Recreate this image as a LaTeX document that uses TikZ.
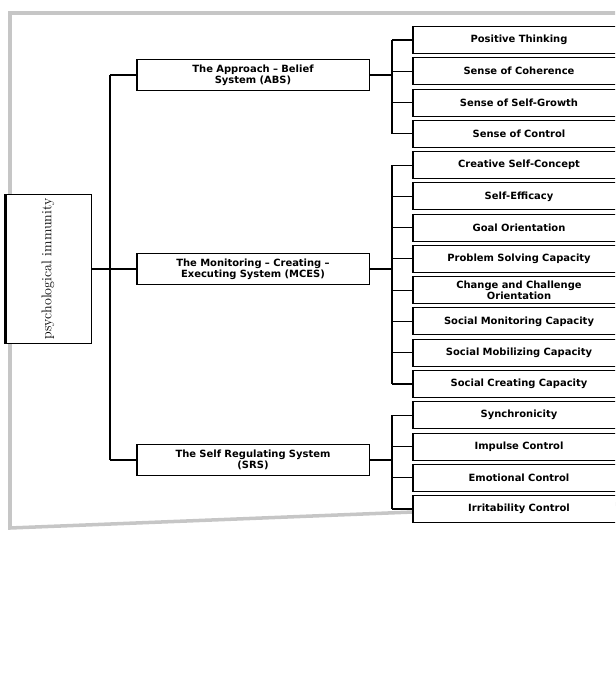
\documentclass[tikz,border=0pt]{standalone}
\usepackage{fontspec}
\setsansfont{DejaVu Sans}
\usetikzlibrary{positioning, calc}

\begin{document}
\begin{tikzpicture}[
    x=0.03cm, y=-0.03cm,
    node distance=0.1cm,
    leftbar/.style={path picture={\draw[line width=#1] (path picture bounding box.north west) -- (path picture bounding box.south west);}},
    rootbox/.style={rectangle, draw, fill=white, line width=0.8pt, minimum width=2.6cm, minimum height=4.26cm, font=\large, leftbar=4pt},
    system/.style={rectangle, draw, fill=white, line width=0.8pt, text width=6.8cm, align=center, minimum width=7cm, minimum height=0.95cm, inner sep=1pt, font=\sffamily\bfseries\fontsize{8.5}{9.5}\selectfont, leftbar=2.5pt},
    factor/.style={rectangle, draw, fill=white, line width=0.8pt, text width=6cm, align=center, minimum width=6.4cm, minimum height=0.81cm, inner sep=1pt, font=\sffamily\bfseries\fontsize{8.5}{9}\selectfont, leftbar=2.5pt},
    link/.style={draw, line width=1pt}
]
\useasboundingbox (0,0) rectangle (615,679);
\clip (0,0) rectangle (615,679);

% Page
\draw[gray!45, line width=3pt] (640,13) -- (10,13) -- (10,528) -- (640,503);

% Root
\node[rootbox] (root) at (48,269) {\rotatebox{90}{psychological immunity}};

% Systems
\node[system] (abs) at (253,75) {The Approach -- Belief\\System (ABS)};
\node[system] (mces) at (253,269) {The Monitoring -- Creating --\\Executing System (MCES)};
\node[system] (srs) at (253,460) {The Self Regulating System\\(SRS)};

% Factors
\node[factor] (f1) at (519,40) {Positive Thinking};
\node[factor, below=of f1] (f2) {Sense of Coherence};
\node[factor, below=of f2] (f3) {Sense of Self-Growth};
\node[factor, below=of f3] (f4) {Sense of Control};
\node[factor, below=of f4] (f5) {Creative Self-Concept};
\node[factor, below=of f5] (f6) {Self-Efficacy};
\node[factor, below=of f6] (f7) {Goal Orientation};
\node[factor, below=of f7] (f8) {Problem Solving Capacity};
\node[factor, below=of f8] (f9) {Change and Challenge\\Orientation};
\node[factor, below=of f9] (f10) {Social Monitoring Capacity};
\node[factor, below=of f10] (f11) {Social Mobilizing Capacity};
\node[factor, below=of f11] (f12) {Social Creating Capacity};
\node[factor, below=of f12] (f13) {Synchronicity};
\node[factor, below=of f13] (f14) {Impulse Control};
\node[factor, below=of f14] (f15) {Emotional Control};
\node[factor, below=of f15] (f16) {Irritability Control};

% Connectors
\coordinate (spine) at (110,0);
\coordinate (bus) at (392,0);

\draw[link] (root.east) -- (root.east -| spine);
\draw[link] (abs.west -| spine) -- (srs.west -| spine);
\draw[link] (abs.west -| spine) -- (abs.west);
\draw[link] (mces.west -| spine) -- (mces.west);
\draw[link] (srs.west -| spine) -- (srs.west);

\draw[link] (abs.east) -- (abs.east -| bus);
\draw[link] (mces.east) -- (mces.east -| bus);
\draw[link] (srs.east) -- (srs.east -| bus);
\draw[link] (f1.west -| bus) -- (f4.west -| bus);
\draw[link] (f5.west -| bus) -- (f12.west -| bus);
\draw[link] (f13.west -| bus) -- (f16.west -| bus);
\foreach \f in {f1,f2,f3,f4,f5,f6,f7,f8,f9,f10,f11,f12,f13,f14,f15,f16}
    \draw[link] (\f.west -| bus) -- (\f.west);

\end{tikzpicture}
\end{document}
